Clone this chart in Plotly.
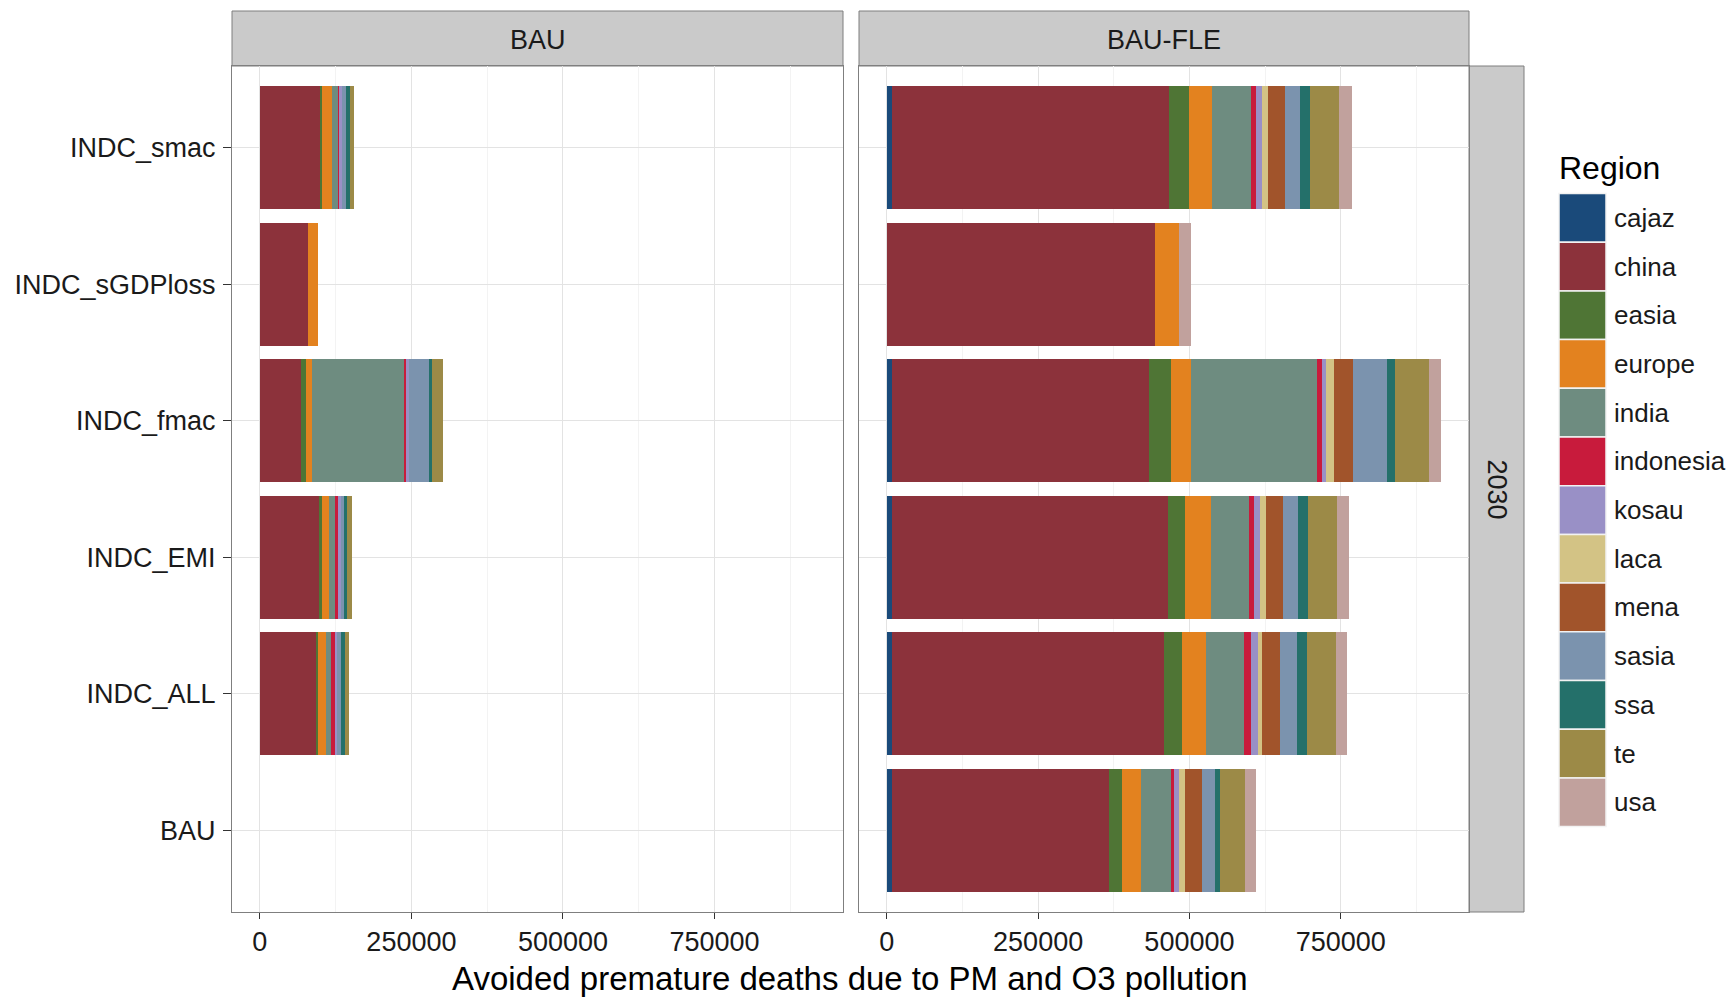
import plotly.graph_objects as go

# ---------------- data ----------------
scenarios = ["INDC_smac", "INDC_sGDPloss", "INDC_fmac", "INDC_EMI", "INDC_ALL", "BAU"]  # top -> bottom
regions = ["cajaz", "china", "easia", "europe", "india", "indonesia", "kosau",
           "laca", "mena", "sasia", "ssa", "te", "usa"]
colors = ["#1a4a7a", "#8c323b", "#4f7535", "#e3821f", "#6e8c80", "#c81b3c", "#9990c6",
          "#d3c385", "#a1542b", "#7b93ae", "#24706a", "#9c8a47", "#c1a19d"]
panels = ["BAU", "BAU-FLE"]
facet_row = "2030"
x_ticks = [0, 250000, 500000, 750000]
x_title = "Avoided premature deaths due to PM and O3 pollution"
legend_title = "Region"

# values per region, in scenario order (INDC_smac, INDC_sGDPloss, INDC_fmac, INDC_EMI, INDC_ALL, BAU)
bau_panel = {
    "cajaz":     [0, 0, 0, 0, 0, 0],
    "china":     [99100, 79900, 67200, 97500, 92000, 0],
    "easia":     [3900, 0, 8300, 4400, 4400, 0],
    "europe":    [15400, 16000, 11000, 12100, 12100, 0],
    "india":     [11000, 0, 151400, 9900, 8300, 0],
    "indonesia": [1600, 0, 3900, 5500, 8300, 0],
    "kosau":     [3900, 0, 4000, 3900, 2800, 0],
    "laca":      [0, 0, 0, 0, 0, 0],
    "mena":      [0, 0, 0, 0, 0, 0],
    "sasia":     [6600, 0, 34700, 5500, 5500, 0],
    "ssa":       [6600, 0, 2800, 5500, 7200, 0],
    "te":        [7200, 0, 18200, 8300, 6600, 0],
    "usa":       [0, 0, 0, 0, 0, 0],
}
fle_panel = {
    "cajaz":     [8000, 0, 8000, 8000, 8000, 8000],
    "china":     [459000, 442400, 425400, 455800, 449400, 358900],
    "easia":     [31600, 0, 36700, 28500, 29700, 20900],
    "europe":    [39200, 39900, 32900, 43000, 39900, 31600],
    "india":     [63300, 0, 207600, 63300, 63300, 49400],
    "indonesia": [9500, 0, 8200, 8900, 10800, 6300],
    "kosau":     [10000, 0, 7600, 9500, 11400, 7600],
    "laca":      [8900, 0, 12700, 9500, 8200, 9500],
    "mena":      [28500, 0, 31600, 28500, 28500, 28500],
    "sasia":     [25300, 0, 55100, 24000, 27800, 22200],
    "ssa":       [16500, 0, 14600, 17700, 16500, 8200],
    "te":        [47500, 0, 55100, 47500, 48700, 41100],
    "usa":       [22000, 20900, 19600, 19000, 19000, 17100],
}

# ---------------- layout helpers ----------------
W, H = 1734, 997
FONT = "Liberation Sans, Arial, sans-serif"
TXT = "#1a1a1a"


def px(x):
    return x / W


def py(y):
    return 1 - y / H


fig = go.Figure()
for pdata, xa, ya in [(bau_panel, "x", "y"), (fle_panel, "x2", "y2")]:
    for reg, col in zip(regions, colors):
        fig.add_trace(go.Bar(
            x=pdata[reg], y=scenarios, orientation="h", name=reg,
            marker=dict(color=col, line=dict(width=0)), width=0.9,
            xaxis=xa, yaxis=ya, showlegend=False,
        ))

xrange = [-46000, 962000]
cat_order = scenarios[::-1]

xcommon = dict(
    range=xrange, tickvals=x_ticks, ticktext=[str(t) for t in x_ticks],
    showgrid=True, gridcolor="#e3e3e3", gridwidth=1,
    minor=dict(showgrid=True, gridcolor="#f3f3f3", dtick=125000, tick0=125000),
    zeroline=False, showline=True, mirror=True, linecolor="#7f7f7f", linewidth=1,
    ticks="outside", ticklen=6, tickcolor="#333333", tickwidth=1,
    tickfont=dict(family=FONT, size=27, color=TXT), ticklabelstandoff=0,
    fixedrange=True,
)
ycommon = dict(
    type="category", categoryorder="array", categoryarray=cat_order,
    range=[-0.6, 5.6], showgrid=True, gridcolor="#e3e3e3", gridwidth=1,
    zeroline=False, showline=True, mirror=True, linecolor="#7f7f7f", linewidth=1,
    domain=[py(912), py(66)], fixedrange=True,
)

fig.update_layout(
    width=W, height=H, autosize=False,
    margin=dict(l=0, r=0, t=0, b=0),
    paper_bgcolor="white", plot_bgcolor="white",
    barmode="stack", bargap=0.1,
    font=dict(family=FONT, size=27, color=TXT),
    xaxis=dict(domain=[px(232), px(843)], anchor="y", **xcommon),
    xaxis2=dict(domain=[px(859), px(1469)], anchor="y2", **xcommon),
    yaxis=dict(anchor="x", ticks="outside", ticklen=8, tickcolor="#333333",
               tickfont=dict(family=FONT, size=27, color=TXT), ticklabelstandoff=2,
               **ycommon),
    yaxis2=dict(anchor="x2", matches="y", showticklabels=False, ticks="", **ycommon),
)

shapes = []
annotations = []
# facet strips (top)
for name, (x0, x1) in zip(panels, [(232, 843), (859, 1469)]):
    shapes.append(dict(type="rect", xref="paper", yref="paper",
                       x0=px(x0), x1=px(x1), y0=py(66), y1=py(11),
                       fillcolor="#cacaca", line=dict(color="#7f7f7f", width=1), layer="below"))
    annotations.append(dict(text=name, xref="paper", yref="paper",
                            x=px((x0 + x1) / 2), y=py(40), xanchor="center", yanchor="middle",
                            showarrow=False, font=dict(family=FONT, size=27, color=TXT)))
# facet strip (right)
shapes.append(dict(type="rect", xref="paper", yref="paper",
                   x0=px(1469), x1=px(1524), y0=py(912), y1=py(66),
                   fillcolor="#cacaca", line=dict(color="#7f7f7f", width=1), layer="below"))
annotations.append(dict(text=facet_row, xref="paper", yref="paper",
                        x=px(1496.5), y=py(489), xanchor="center", yanchor="middle",
                        textangle=90, showarrow=False, font=dict(family=FONT, size=27, color=TXT)))
# x axis title
annotations.append(dict(text=x_title, xref="paper", yref="paper",
                        x=px(850), y=py(978), xanchor="center", yanchor="middle",
                        showarrow=False, font=dict(family=FONT, size=33, color="#000000")))
# legend (ggplot style)
annotations.append(dict(text=legend_title, xref="paper", yref="paper",
                        x=px(1557), y=py(168), xanchor="left", yanchor="middle",
                        showarrow=False, font=dict(family=FONT, size=32, color="#000000")))
key_top, key_h = 193.5, 48.7
for i, (reg, col) in enumerate(zip(regions, colors)):
    y0 = key_top + i * key_h
    shapes.append(dict(type="rect", xref="paper", yref="paper",
                       x0=px(1559), x1=px(1606), y0=py(y0 + key_h), y1=py(y0),
                       fillcolor=col, line=dict(color="#f2f2f2", width=1.5)))
    annotations.append(dict(text=reg, xref="paper", yref="paper",
                            x=px(1612), y=py(y0 + key_h / 2), xanchor="left", yanchor="middle",
                            showarrow=False, font=dict(family=FONT, size=26, color=TXT)))

fig.update_layout(shapes=shapes, annotations=annotations)
fig.write_html(
    "out.html",
    config={"displayModeBar": False},
    post_script="document.body.style.margin='0';document.body.style.overflow='hidden';",
)
